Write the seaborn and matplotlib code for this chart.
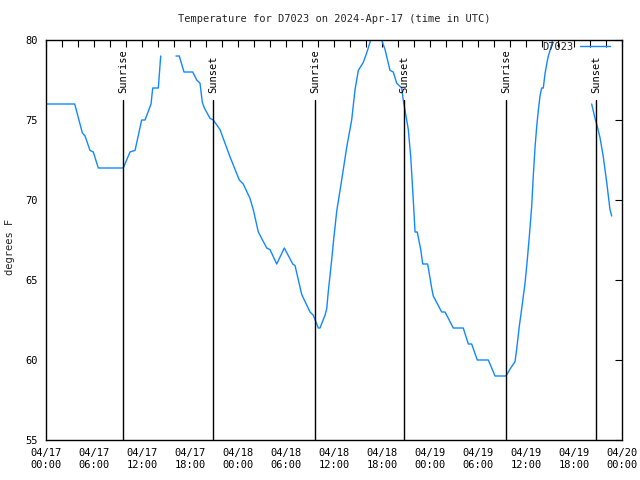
import numpy as np
import pandas as pd
import matplotlib
matplotlib.use("Agg")
import matplotlib.pyplot as plt
import matplotlib.dates as mdates
import seaborn as sns

# hours since 2024-04-17 00:00 UTC ; NaN marks a gap in the record
hours = [0.0, 3.59, 4.54, 4.88, 5.5, 5.91, 6.54, 9.66, 10.5, 11.13, 11.96, 12.38,
         13.13, 13.34, 14.04, 14.34, np.nan,
         16.25, 16.66, 17.25, 18.34, 18.84, 19.25, 19.54, 19.75, 20.5, 20.91, 21.75,
         23.0, 24.16, 24.66, 25.5, 25.91, 26.54, 27.59, 28.0, 28.84, 29.79, 30.84,
         31.13, 31.96, 33.0, 33.41, 34.04, 34.25, 34.88, 35.09, 35.29, 35.71, 35.91,
         36.34, 36.96, 37.59, 38.21, 38.63, 39.04, 39.66, 40.09, 40.59, 41.25, 41.96,
         42.38, 43.0, 43.41, 43.84, 44.46, 44.66, 44.88, 45.29, 45.59, 45.91, 46.13,
         46.41, 46.84, 47.09, 47.71, 48.21, 48.41, 49.04, 49.46, 49.88, 50.91, 52.16,
         52.79, 53.21, 53.91, 55.29, 56.13, 57.5, 58.09, 58.63, 58.84, 59.16, 59.46,
         59.88, 60.16, 60.41, 60.71, 60.91, 61.13, 61.34, 61.54, 61.75, 61.96, 62.16,
         62.38, 62.59, 62.79, 63.09, 63.34, 63.75, np.nan,
         68.21, 68.63, 68.91, 69.25, 69.66, 70.09, 70.5, 70.71]
temps = [76, 76, 74.2, 74, 73.1, 73, 72, 72, 73, 73.1, 75, 75,
         76, 77, 77, 79, np.nan,
         79, 79, 78, 78, 77.5, 77.3, 76.1, 75.8, 75.1, 75, 74.4,
         72.7, 71.25, 71, 70.1, 69.4, 68, 67, 66.9, 66, 67, 66,
         65.9, 64.1, 63, 62.8, 62, 62, 62.8, 63.2, 64.3, 66.25, 67.3,
         69.3, 71.25, 73.3, 75, 76.9, 78.1, 78.6, 79.2, 80, 80.6, 80,
         79.4, 78.1, 78, 77.3, 77, 76.25, 75.6, 74.4, 72.7, 70, 68,
         68, 66.9, 66, 66, 64.5, 64, 63.4, 63, 63, 62, 62,
         61, 61, 60, 60, 59, 59, 59.5, 59.9, 60.7, 62.1, 63.2,
         64.8, 66.25, 67.7, 69.6, 71.5, 73.3, 74.6, 75.6, 76.5, 77, 77,
         77.9, 78.5, 79, 79.5, 80, 80.5, np.nan,
         76, 75.1, 74.6, 73.9, 72.7, 71.1, 69.4, 69]

sun_labels = ["Sunrise", "Sunset", "Sunrise", "Sunset", "Sunrise", "Sunset"]
sun_hours = [9.66, 20.91, 33.6, 44.75, 57.52, 68.77]

title = "Temperature for D7023 on 2024-Apr-17 (time in UTC)"
ylabel = "degrees F"
series_name = "D7023"

sns.set_style("white")
plt.rcParams["font.family"] = ["DejaVu Sans Mono", "DejaVu Sans"]

start = pd.Timestamp("2024-04-17 00:00")
df = pd.DataFrame({"h": hours, "temp": temps})
df["seg"] = df["temp"].isna().cumsum()
df = df.dropna()
df["time"] = start + pd.to_timedelta(df["h"], unit="h")

fig = plt.figure(figsize=(6.4, 4.8), dpi=100)
ax = fig.add_axes([46 / 640, 40 / 480, 576 / 640, 400 / 480])

color = "#1188ff"
for i, (seg, sub) in enumerate(df.groupby("seg")):
    sns.lineplot(data=sub, x="time", y="temp", ax=ax, color=color, linewidth=1.0,
                 label=series_name if i == 0 else None, legend=False,
                 estimator=None, sort=False)

for lab, h in zip(sun_labels, sun_hours):
    t = start + pd.Timedelta(hours=h)
    ax.axvline(t, ymin=0, ymax=0.85, color="black", linewidth=1.0)
    ax.text(t, 76.7, lab, rotation=90, ha="center", va="bottom", fontsize=7.5,
            color="black")

ax.set_xlim(start, start + pd.Timedelta(hours=72))
ax.set_ylim(55, 80)
ax.set_yticks([55, 60, 65, 70, 75, 80])
ax.xaxis.set_major_locator(mdates.HourLocator(byhour=[0, 6, 12, 18]))
ax.xaxis.set_minor_locator(mdates.HourLocator(byhour=range(0, 24, 2)))
ax.xaxis.set_major_formatter(mdates.DateFormatter("%m/%d\n%H:%M"))
ax.tick_params(axis="both", which="both", direction="in", top=True, right=True,
               length=5, width=0.8, color="black", labelsize=7.5, labelcolor="black")
ax.tick_params(axis="x", which="major", pad=6)
ax.tick_params(axis="y", which="major", pad=6)
ax.set_xlabel("")
ax.set_ylabel("")
for sp in ax.spines.values():
    sp.set_visible(True)
    sp.set_color("black")
    sp.set_linewidth(1.0)

leg = ax.legend(loc="upper right", bbox_to_anchor=(0.979, 0.995), frameon=False,
                markerfirst=False, fontsize=7.5, handlelength=2.9, borderaxespad=0,
                borderpad=0, handletextpad=0.6)

fig.text(334 / 640, 1 - 19 / 480, title, ha="center", va="center", fontsize=7.5)
fig.text(10 / 640, 1 - 247 / 480, ylabel, ha="center", va="center", rotation=90,
         fontsize=7.5)

fig.savefig("out.png", dpi=100)
